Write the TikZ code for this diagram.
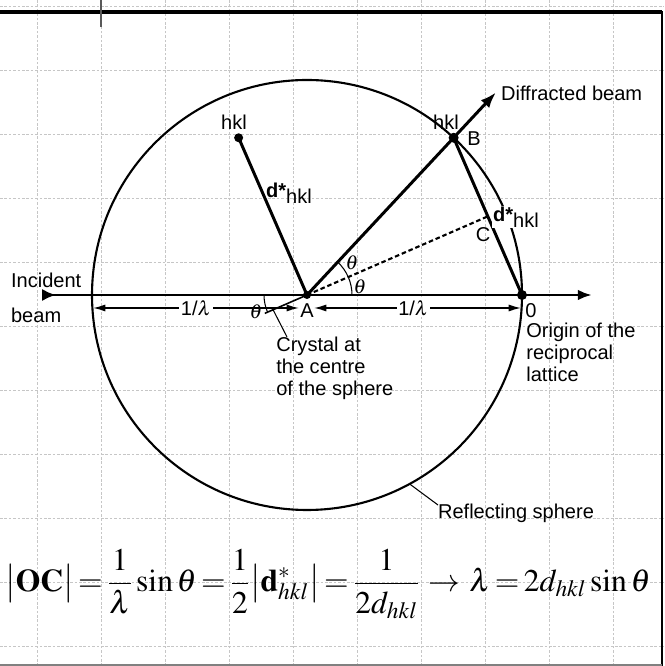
\documentclass[tikz,border=0pt]{standalone}
\usepackage{amsmath}
\usepackage{mathptmx}
\usepackage[no-math]{fontspec}
\newfontfamily\labelfont{Liberation Sans}
\usetikzlibrary{
  calc,        % midpoints and vector sums
  arrows.meta  % Latex tips
}

\begin{document}
\begin{tikzpicture}[x=0.02cm, y=0.02cm,
    lab/.style={font=\labelfont\fontsize{11.4}{12.4}\selectfont, inner sep=1pt},
    gridline/.style={gray!45, line width=0.4pt, dash pattern=on 1.5pt off 1pt},
    beam/.style={line width=1.7pt},
    dimline/.style={line width=0.8pt, {Latex[length=7pt,width=4pt]}-{Latex[length=7pt,width=4pt]}},
    dot/.style={fill=black}]
  \def\ang{23.5}   % Bragg angle theta in degrees
  \def\rSph{215}   % radius of the reflecting sphere, 1/lambda
  \def\rArc{45}    % radius of the small angle arcs
  \useasboundingbox (0,0) rectangle (664,666);
  % background grid and frame
  \foreach \gx in {37,101,...,613}
    \draw[gridline] (\gx,0) -- (\gx,666);
  \foreach \gy in {20,84,...,660}
    \draw[gridline] (0,\gy) -- (664,\gy);
  \draw[line width=2.3pt] (0,654) -- (662,654);
  \draw[line width=1.2pt] (662,655) -- (662,0);
  \draw[gray, line width=0.6pt] (0,1) -- (662,1);
  \draw[gray!70!black, line width=0.8pt] (101,666) -- (101,639);
  % main points
  \coordinate (A) at (307,371);
  \path (A) ++(0:\rSph) coordinate (O);
  \path (A) ++(2*\ang:\rSph) coordinate (B);
  \path (A) ++(180:\rSph) coordinate (S_L);
  \coordinate (C) at ($(O)!0.5!(B)$);
  \coordinate (H) at ($(A)+(B)-(O)$);
  \path (A) ++(2*\ang:\rSph+62) coordinate (D_end);
  \path (A) ++(180+\ang:46) coordinate (P_end);
  \path (A) ++(180+\ang:37) coordinate (P_lead);
  \path (A) ++(-61.5:\rSph) coordinate (S_lead);
  \coordinate (I_start) at (42,371);
  \coordinate (I_end) at (592,371);
  \coordinate (L_dim) at (93,358);
  \coordinate (A_dimL) at (299,358);
  \coordinate (A_dimR) at (314,358);
  \coordinate (O_dim) at (521,358);
  % reflecting sphere
  \draw[line width=1.2pt] (A) circle[radius=\rSph];
  % beams
  \draw[beam, {Latex[reversed,length=8pt,width=7pt]}-{Latex[length=8pt,width=6pt]}] (I_start) -- (I_end);
  \draw[beam, -{Latex[length=9pt,width=6.5pt]}] (A) -- (D_end);
  \draw[beam] (A) -- (H);
  \draw[beam] (B) -- (O);
  \draw[line width=1.2pt, dash pattern=on 2.6pt off 1.6pt] (A) -- (C);
  \draw[line width=0.9pt] (A) -- (P_end);
  % angle arcs
  \draw[line width=0.6pt] (A) ++(0:\rArc) arc[start angle=0, end angle=\ang, radius=\rArc];
  \draw[line width=0.6pt] (A) ++(\ang:\rArc) arc[start angle=\ang, end angle=2*\ang, radius=\rArc];
  \draw[line width=0.6pt] (A) ++(180:\rArc-2) arc[start angle=180, end angle=180+\ang, radius=\rArc-2];
  % dots
  \fill[dot] (A) circle[radius=4];
  \fill[dot] (B) circle[radius=5];
  \fill[dot] (O) circle[radius=5];
  \fill[dot] (H) circle[radius=4.5];
  % 1/lambda dimensions
  \draw[dimline] (L_dim) -- (A_dimL) node[lab, pos=0.5, fill=white] {1/$\lambda$};
  \draw[dimline] (A_dimR) -- (O_dim) node[lab, pos=0.48, fill=white] {1/$\lambda$};
  % labels
  \node[lab, anchor=west] (diff) at (499,573) {Diffracted beam};
  \node[lab] (hklL) at (234,544) {hkl};
  \node[lab] (dstarL) at (289,473) {\textbf{d*}\raisebox{-0.6ex}{hkl}};
  \node[lab] (hklB) at (446,544) {hkl};
  \node[lab] (lblB) at (474,527) {B};
  \node[lab, fill=white, inner sep=0.5pt] (dstarR) at (516,449) {\textbf{d*}\raisebox{-0.6ex}{hkl}};
  \node[lab] (lblC) at (483,431) {C};
  \node[lab] (th2) at (352,403) {$\theta$};
  \node[lab] (th1) at (360,379) {$\theta$};
  \node[lab] (th0) at (256,354) {$\theta$};
  \node[lab] (lblA) at (307,355) {A};
  \node[lab] (lbl0) at (531,355) {0};
  \node[lab, anchor=west] (inc) at (9,386) {Incident};
  \node[lab, anchor=west] (incb) at (9,351) {beam};
  \node[lab, anchor=north west, align=left, inner sep=0pt] (crys) at (276,329)
    {Crystal at\\the centre\\of the sphere};
  \node[lab, anchor=north west, align=left, inner sep=0pt] (orig) at (526,343)
    {Origin of the\\reciprocal\\lattice};
  \node[lab, anchor=west] (refl) at (436,153) {Reflecting sphere};
  \coordinate (C_lead) at ($(crys.north west)+(11,0)$);
  \coordinate (R_lead) at ($(refl.west)+(2,8)$);
  \draw[line width=0.6pt] (P_lead) -- (C_lead);
  \draw[line width=0.6pt] (S_lead) -- (R_lead);
  % Bragg relation
  \node[anchor=west, inner sep=0pt] (eq) at (5,82) {\fontsize{18}{22}\selectfont
    \thickmuskip=2.5mu \medmuskip=1.5mu
    $\displaystyle \bigl|\mathbf{OC}\bigr| = \frac{1}{\lambda}\sin\theta
     = \frac{1}{2}\bigl|\mathbf{d}^{*}_{hkl}\bigr| = \frac{1}{2d_{hkl}}
     \;\rightarrow\; \lambda = 2d_{hkl}\sin\theta$};
\end{tikzpicture}
\end{document}
